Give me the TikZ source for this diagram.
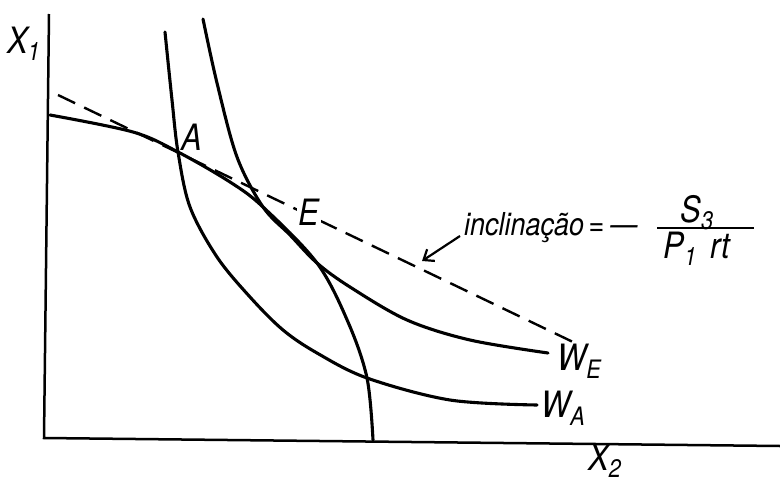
\documentclass[tikz,border=0pt]{standalone}
\usepackage{fontspec}
\usepackage{graphicx}
\setmainfont{TeX Gyre Heros}
\usetikzlibrary{arrows.meta}
\newcommand{\talltxt}[1]{\scalebox{1}[1.17]{#1}}
\begin{document}
\begin{tikzpicture}[x=1pt,y=-1pt,
  curve/.style={line width=3.1pt, line cap=round},
  axisline/.style={line width=2.5pt},
  dashline/.style={line width=2.4pt, dash pattern=on 19pt off 10pt},
  lab/.style={inner sep=0pt, font=\fontsize{31}{33}\selectfont\itshape},
  slab/.style={inner sep=0pt, font=\fontsize{27}{30}\selectfont\itshape},
  pointer/.style={line width=2.2pt, -{Straight Barb[length=9pt,width=14pt,line width=2.2pt]}}]
\useasboundingbox (0,0) rectangle (780,485);
\fill[white] (0,0) rectangle (780,485);
% axes
\coordinate (ytop) at (49,14);
\coordinate (orig) at (44,438);
\coordinate (xend) at (780,446);
\draw[axisline] (ytop) -- (orig) -- (xend);
% production frontier
\draw[curve] plot[smooth, tension=0.55] coordinates {(50,115) (133,132) (178,152) (230,182) (263,207) (317,263) (348,322) (367,378) (373,440)};
% W_A
\draw[curve] plot[smooth, tension=0.55] coordinates {(165,32) (172,100) (178,152) (190,207) (217,257) (250,297) (283,330) (317,353) (367,378) (450,400) (537,405)};
% W_E
\draw[curve] plot[smooth, tension=0.55] coordinates {(203,19) (217,83) (237,157) (263,207) (290,235) (317,263) (350,287) (407,320) (470,340) (548,353)};
% dashed slope line
\coordinate (dA) at (58,95);
\coordinate (dB) at (573,342);
\draw[dashline] (dA) -- (dB);
% labels
\node[lab, anchor=base west] (x1) at (7,53) {\talltxt{X\textsubscript{1}}};
\node[lab, anchor=base west] (A) at (181,150) {\talltxt{A}};
\node[lab, anchor=base west, fill=white, inner sep=1.5pt] (E) at (297,225) {\talltxt{E}};
\node[lab, anchor=base west] (x2) at (588,470) {\talltxt{X\textsubscript{2}}};
\node[lab, anchor=base west] (WE) at (557,370) {\talltxt{W\textsubscript{E}}};
\node[lab, anchor=base west] (WA) at (541,417) {\talltxt{W\textsubscript{A}}};
\node[slab, anchor=base west] (incl) at (464,235) {\talltxt{inclinação\,=\hspace{6pt}—}};
\node[lab, anchor=base] (num) at (697,222) {\talltxt{S\textsubscript{3}}};
\node[lab, anchor=base] (den) at (697,258) {\talltxt{P\textsubscript{1}\hspace{14pt}rt}};
\coordinate (barL) at (657,228);
\coordinate (barR) at (754,228);
\draw[line width=2.2pt] (barL) -- (barR);
\coordinate (arrS) at (460,236);
\coordinate (arrE) at (422,261);
\draw[pointer] (arrS) -- (arrE);
\end{tikzpicture}
\end{document}
